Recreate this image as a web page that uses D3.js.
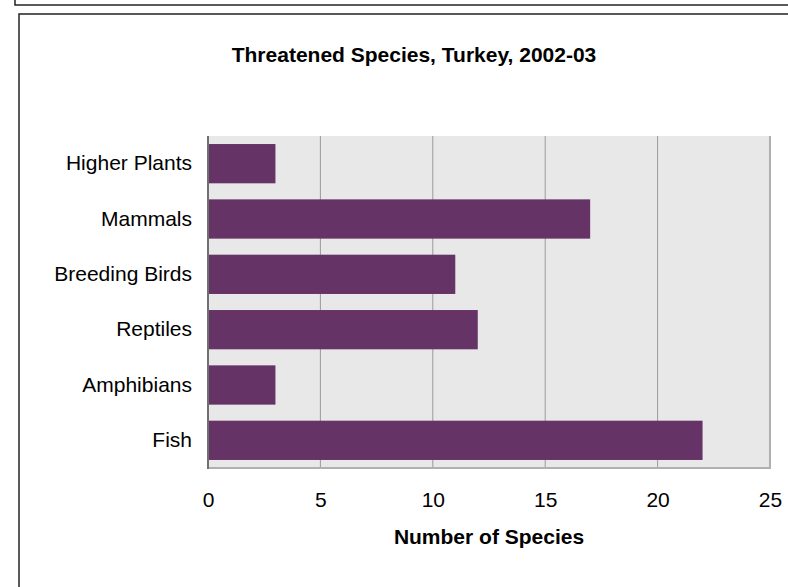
<!DOCTYPE html>
<html>
<head>
<meta charset="utf-8">
<script src="https://cdn.jsdelivr.net/npm/d3@7"></script>
<style>
  body { margin: 0; background: #fff; }
  text { font-family: "Liberation Sans", Arial, sans-serif; fill: #000; }
</style>
</head>
<body>
<div id="chart"></div>
<script>
var categories = ["Higher Plants", "Mammals", "Breeding Birds", "Reptiles", "Amphibians", "Fish"];
var species = [3, 17, 11, 12, 3, 22];
var xTicks = [0, 5, 10, 15, 20, 25];

var svgWidth = 788;
var svgHeight = 587;
var margin = { top: 136, right: 18, bottom: 119, left: 208 };
var width = svgWidth - margin.left - margin.right;
var height = svgHeight - margin.top - margin.bottom;

var data = categories.map((c, i) => ({ name: c, value: species[i] }));

var svg = d3.select("#chart")
  .append("svg")
  .attr("width", svgWidth)
  .attr("height", svgHeight);

// outer frames
svg.append("rect")
  .attr("x", 15).attr("y", -10)
  .attr("width", 800).attr("height", 15)
  .attr("fill", "none").attr("stroke", "#222").attr("stroke-width", 1.5);

svg.append("rect")
  .attr("x", 19).attr("y", 14)
  .attr("width", 800).attr("height", 600)
  .attr("fill", "none").attr("stroke", "#222").attr("stroke-width", 1.5);

svg.append("text")
  .attr("x", 414)
  .attr("y", 62)
  .attr("text-anchor", "middle")
  .style("font-size", "21px")
  .style("font-weight", "bold")
  .text("Threatened Species, Turkey, 2002-03");

var chartGroup = svg.append("g")
  .attr("transform", `translate(${margin.left}, ${margin.top})`);

var xScale = d3.scaleLinear()
  .domain([0, 25])
  .range([0, width]);

var yScale = d3.scaleBand()
  .domain(categories)
  .range([0, height])
  .paddingInner(0.29)
  .paddingOuter(0.145);

// plot background
chartGroup.append("rect")
  .attr("width", width)
  .attr("height", height)
  .attr("fill", "#e8e8e8");

// vertical gridlines
chartGroup.selectAll(".grid")
  .data(xTicks.slice(1, -1))
  .enter()
  .append("line")
  .attr("x1", d => xScale(d))
  .attr("x2", d => xScale(d))
  .attr("y1", 0)
  .attr("y2", height)
  .attr("stroke", "#9a9a9a")
  .attr("stroke-width", 1);

// right and bottom border
chartGroup.append("line")
  .attr("x1", width).attr("x2", width)
  .attr("y1", 0).attr("y2", height)
  .attr("stroke", "#b0b0b0").attr("stroke-width", 2);
chartGroup.append("line")
  .attr("x1", 0).attr("x2", width + 1)
  .attr("y1", height).attr("y2", height)
  .attr("stroke", "#b0b0b0").attr("stroke-width", 2);

// bars
chartGroup.selectAll(".bar")
  .data(data)
  .enter()
  .append("rect")
  .attr("class", "bar")
  .attr("x", 0)
  .attr("y", d => yScale(d.name))
  .attr("width", d => xScale(d.value))
  .attr("height", yScale.bandwidth())
  .attr("fill", "#663366");

// left axis line
chartGroup.append("line")
  .attr("x1", 0).attr("x2", 0)
  .attr("y1", 0).attr("y2", height + 1)
  .attr("stroke", "#707070").attr("stroke-width", 2);

// y axis labels
var leftAxis = d3.axisLeft(yScale).tickSize(0).tickPadding(16);
var yAxis = chartGroup.append("g").call(leftAxis);
yAxis.select(".domain").remove();
yAxis.selectAll("text")
  .style("font-size", "21px")
  .style("font-family", "'Liberation Sans', Arial, sans-serif")
  .attr("fill", "#000");

// x axis labels
var bottomAxis = d3.axisBottom(xScale).tickValues(xTicks).tickSize(0).tickPadding(24);
var xAxis = chartGroup.append("g")
  .attr("transform", `translate(0, ${height})`)
  .call(bottomAxis);
xAxis.select(".domain").remove();
xAxis.selectAll("text")
  .style("font-size", "21px")
  .style("font-family", "'Liberation Sans', Arial, sans-serif")
  .attr("fill", "#000");

chartGroup.append("text")
  .attr("x", width / 2)
  .attr("y", height + 76)
  .attr("text-anchor", "middle")
  .style("font-size", "21px")
  .style("font-weight", "bold")
  .text("Number of Species");
</script>
</body>
</html>
